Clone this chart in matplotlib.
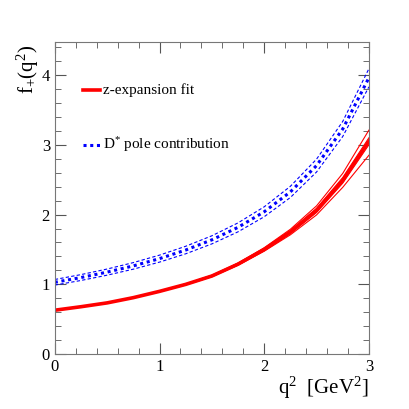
import numpy as np
import matplotlib
matplotlib.use("Agg")
import matplotlib.pyplot as plt
from matplotlib.ticker import MultipleLocator

plt.rcParams['font.family'] = ['Liberation Serif', 'DejaVu Serif']
plt.rcParams['mathtext.fontset'] = 'custom'
plt.rcParams['mathtext.rm'] = 'Liberation Serif'
plt.rcParams['mathtext.it'] = 'Liberation Serif'

q2 = [0, 0.25, 0.5, 0.75, 1.0, 1.25, 1.5, 1.75, 2.0, 2.25, 2.5, 2.75, 3.0]
zfit = [0.63, 0.68, 0.735, 0.81, 0.90, 1.00, 1.12, 1.29, 1.50, 1.75, 2.06, 2.49, 3.05]
zfit_in = [0.005, 0.005, 0.005, 0.005, 0.006, 0.008, 0.010, 0.013, 0.017, 0.022, 0.030, 0.040, 0.05]
zfit_out_hi = [0.0, 0.0, 0.0, 0.0, 0.003, 0.006, 0.010, 0.016, 0.025, 0.040, 0.065, 0.10, 0.16]
zfit_out_lo = [0.0, 0.0, 0.0, 0.0, 0.003, 0.006, 0.010, 0.016, 0.025, 0.040, 0.065, 0.10, 0.20]
pole = [1.03, 1.098, 1.176, 1.265, 1.369, 1.492, 1.638, 1.817, 2.040, 2.325, 2.702, 3.226, 3.96]
pole_err = [0.04, 0.042, 0.044, 0.047, 0.050, 0.054, 0.058, 0.064, 0.071, 0.080, 0.092, 0.108, 0.13]

x = np.array(q2)
z = np.array(zfit)
p = np.array(pole)
pe = np.array(pole_err)

fig = plt.figure(figsize=(4.09, 4.09), dpi=100)
ax = fig.add_axes([0.134, 0.134, 0.768, 0.763])

# red band lines
for s in (1, -1):
    ax.plot(x, z + s * np.array(zfit_in), color='red', lw=0.8)
ax.plot(x, z + np.array(zfit_out_hi), color='red', lw=0.8)
ax.plot(x, z - np.array(zfit_out_lo), color='red', lw=0.8)
ax.plot(x, z, color='red', lw=2.6)

# blue pole band
ax.plot(x, p + pe, color='blue', lw=0.8, ls=(0, (3, 2)))
ax.plot(x, p - pe, color='blue', lw=0.8, ls=(0, (3, 2)))
ax.plot(x, p, color='blue', lw=2.2, ls=(0, (1, 1.2)))

ax.set_xlim(0, 3)
ax.set_ylim(0, 4.47)
ax.xaxis.set_major_locator(MultipleLocator(1))
ax.xaxis.set_minor_locator(MultipleLocator(0.2))
ax.yaxis.set_major_locator(MultipleLocator(1))
ax.yaxis.set_minor_locator(MultipleLocator(0.2))
ax.tick_params(which='both', direction='in', top=True, right=True, labelsize=12, color='#555555')
ax.tick_params(which='major', length=8)
ax.tick_params(which='minor', length=4)
for sp in ax.spines.values():
    sp.set_color('#777777')

# legend drawn by hand
ax.plot([0.27, 0.43], [3.78, 3.78], color='red', lw=2.6)
ax.text(0.46, 3.78, 'z-expansion fit', va='center', fontsize=11)
ax.plot([0.27, 0.43], [3.0, 3.0], color='blue', lw=2.2, ls=(0, (1, 1.2)))
ax.text(0.46, 3.0, r'D$^{*}$ pole contribution', va='center', fontsize=11)

fig.text(0.035, 0.89, r'f$_{+}$(q$^{2}$)', rotation=90, ha='left', va='top', fontsize=15)
fig.text(0.902, 0.02, r'q$^{2}$  [GeV$^{2}$]', ha='right', va='bottom', fontsize=15)

fig.savefig('out.png', dpi=100)
